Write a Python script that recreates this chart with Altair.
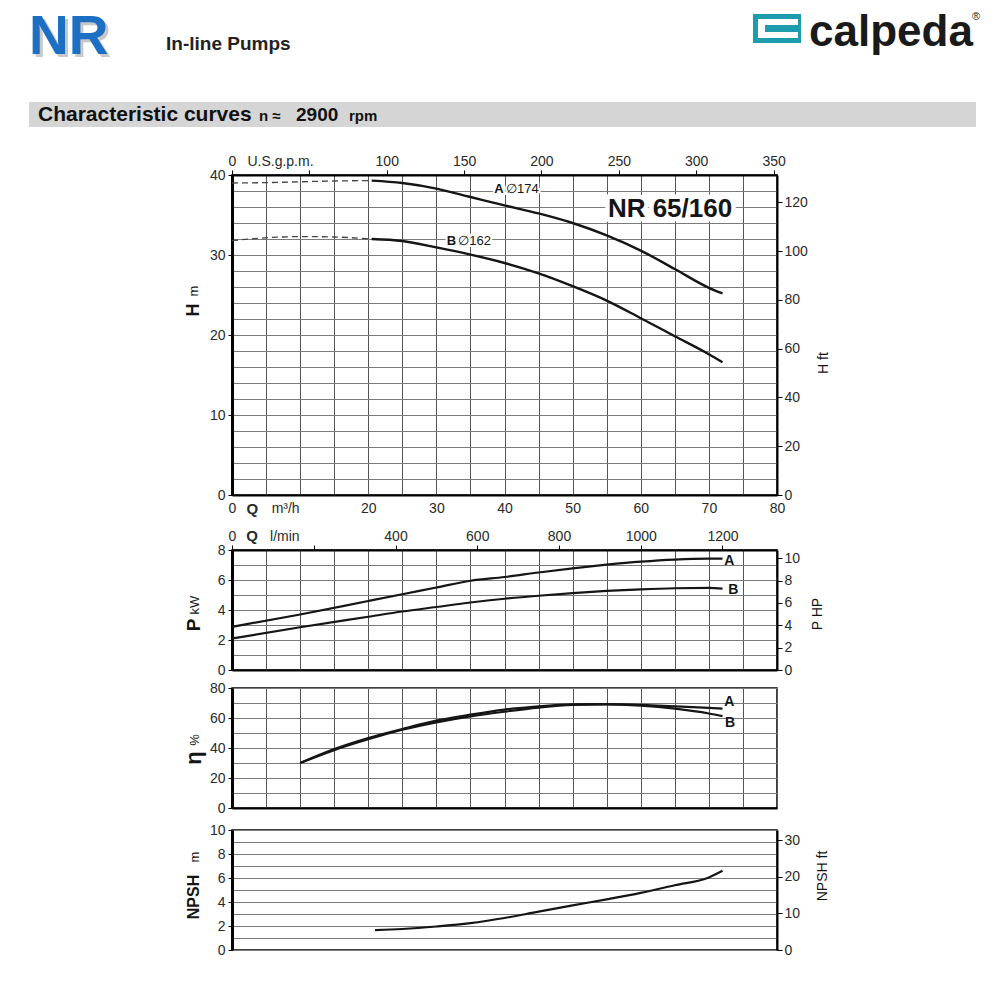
import altair as alt
import pandas as pd

FONT = "Liberation Sans"
INK = "#151515"
LABEL = "#2a2a2a"
GRID_V = "#555555"
GRID_H = "#7a7a7a"
BLUE = "#1c6fc2"
TEAL = "#1c9cad"
BAND = "#d5d5d5"
W = 545

# ---------------- curve data ----------------
curve_names = ["A", "B"]
impeller_labels = ["\u2205174", "\u2205162"]
model_name = ["NR 65/160"]

head_q = [20.5, 25, 30, 35, 40, 45, 50, 55, 60, 65, 70, 72]
head_a = [39.3, 39.0, 38.3, 37.25, 36.2, 35.2, 34.0, 32.45, 30.55, 28.25, 25.9, 25.2]
head_b = [32.0, 31.75, 30.95, 30.05, 29.0, 27.7, 26.1, 24.3, 22.1, 19.85, 17.6, 16.6]
head_ext_q = [0, 5, 10, 15, 20.5]
head_ext_a = [39.0, 39.05, 39.15, 39.25, 39.3]
head_ext_b = [31.8, 32.15, 32.3, 32.25, 32.0]

power_q = [0, 10, 20, 25, 30, 35, 40, 45, 50, 55, 60, 65, 70, 72]
power_a = [2.88, 3.7, 4.6, 5.05, 5.5, 5.95, 6.2, 6.5, 6.78, 7.02, 7.22, 7.36, 7.42, 7.42]
power_b = [2.1, 2.85, 3.55, 3.9, 4.2, 4.5, 4.75, 4.95, 5.12, 5.27, 5.38, 5.45, 5.47, 5.42]

eff_q = [10, 15, 20, 25, 30, 35, 40, 45, 50, 55, 60, 65, 70, 72]
eff_a = [30.0, 39.3, 46.7, 52.7, 58.2, 62.2, 65.6, 67.8, 69.1, 69.3, 68.7, 67.8, 66.8, 66.3]
eff_b = [30.0, 38.6, 45.8, 52.2, 57.1, 61.1, 64.2, 66.9, 68.7, 69.1, 68.2, 66.2, 63.0, 61.2]

npsh_q = [21, 25, 30, 35, 40, 45, 50, 55, 60, 65, 70, 72]
npsh_v = [1.65, 1.75, 1.96, 2.24, 2.67, 3.2, 3.72, 4.22, 4.76, 5.4, 6.05, 6.6]

# annotation anchors (data coordinates)
head_label_q = [39.2, 32.2]
head_label_v = [38.3, 31.75]
model_label_q = [64.3]
model_label_v = [35.7]
power_label_q = [73.0, 73.6]
power_label_v = [7.3, 5.35]
eff_label_q = [73.0, 73.1]
eff_label_v = [70.7, 56.7]

# axis texts
left_titles = ["H", "P", "\u03b7", "NPSH"]
left_units = ["m", "kW", "%", "m"]
right_titles = ["H ft", "P HP", "NPSH ft"]
header_brand = ["NR"]
header_sub = ["In-line Pumps"]
header_logo = ["calpeda"]
header_reg = ["\u00ae"]
band_title = ["Characteristic curves"]
band_speed = ["n \u2248", "2900", "rpm"]

# axis tick values
q_grid = list(range(0, 81, 5))
Q_LETTER = 2.9
Q_UNIT = 7.8
gpm_ticks = [0, 31, 50, 100, 150, 200, 250, 300, 350]
lpm_ticks = [0, 48, 128, 200, 400, 600, 800, 1000, 1200]
h_ft_ticks = [0, 20, 40, 60, 80, 100, 120]
hp_ticks = [0, 2, 4, 6, 8, 10]
npsh_ft_ticks = [0, 10, 20, 30]

GPM = 4.40287
LPM = 1000.0 / 60.0
FT = 1 / 0.3048
HP = 1 / 0.7457


def curve_df(q, series):
    rows = []
    for name, vals in series.items():
        for qq, vv in zip(q, vals):
            rows.append({"q": qq, "v": vv, "curve": name})
    return pd.DataFrame(rows)


def q_axis(with_labels):
    if with_labels:
        vals = sorted(set(q_grid + [Q_LETTER, Q_UNIT]))
        return alt.Axis(
            orient="bottom", values=vals,
            labelExpr=(f"datum.value == {Q_LETTER} ? 'Q' : datum.value == {Q_UNIT} ? 'm\u00b3/h' : "
                       "(datum.value == 0 || (datum.value >= 20 && datum.value % 10 == 0)) ? datum.label : ''"),
            labelFontWeight={"condition": {"test": f"datum.value == {Q_LETTER}", "value": "bold"}, "value": "normal"},
            labelFontSize={"condition": {"test": f"datum.value == {Q_LETTER}", "value": 15}, "value": 14},
            labelColor=LABEL, labelPadding=6, labelFlush=False, labelOverlap=False, ticks=False,
            grid=True, gridColor=GRID_V, gridWidth=1,
            gridOpacity={"condition": {"test": f"datum.value == {Q_LETTER} || datum.value == {Q_UNIT}", "value": 0}, "value": 1},
            domain=True, domainColor="black", domainWidth=2, title=None)
    return alt.Axis(orient="bottom", values=q_grid, labels=False, ticks=False, grid=True,
                    gridColor=GRID_V, gridWidth=1, domain=True, domainColor="black",
                    domainWidth=2, title=None)


def v_axis(vals, step):
    return alt.Axis(
        orient="left", values=vals,
        labelExpr=f"datum.value % {step} == 0 ? datum.label : ''",
        tickOpacity={"condition": {"test": f"datum.value % {step} != 0", "value": 0}, "value": 1},
        tickSize=4, tickColor="black", tickWidth=1, labelPadding=3, labelFontSize=14,
        labelColor=LABEL, labelOverlap=False, grid=True, gridColor=GRID_H, gridWidth=1.2,
        domain=True, domainColor="black", domainWidth=3, title=None)


def enc_xy(xaxis, ymax, yaxis):
    return dict(
        x=alt.X("q:Q", scale=alt.Scale(domain=[0, 80], nice=False, zero=False), axis=xaxis),
        y=alt.Y("v:Q", scale=alt.Scale(domain=[0, ymax], nice=False, zero=False), axis=yaxis),
    )


def right_layer(max_val, vals):
    df = pd.DataFrame({"q": [0.0], "r": [0.0]})
    return alt.Chart(df).mark_point(opacity=0).encode(
        x=alt.X("q:Q", scale=alt.Scale(domain=[0, 80], nice=False, zero=False), axis=None),
        y=alt.Y("r:Q", scale=alt.Scale(domain=[0, max_val], nice=False, zero=False),
                axis=alt.Axis(orient="right", values=vals, format="d", tickSize=5, tickColor="black",
                              labelPadding=2, labelFontSize=14, labelColor=LABEL,
                              labelOverlap=False, grid=False, domain=True,
                              domainColor="black", domainWidth=2, title=None)))


def top_layer(max_val, vals, expr, hidden_test, bold_test):
    df = pd.DataFrame({"u": [0.0], "r": [0.0]})
    return alt.Chart(df).mark_point(opacity=0).encode(
        x=alt.X("u:Q", scale=alt.Scale(domain=[0, max_val], nice=False, zero=False),
                axis=alt.Axis(orient="top", values=vals, format="d", labelExpr=expr,
                              tickOpacity={"condition": {"test": hidden_test, "value": 0}, "value": 1},
                              labelFontWeight={"condition": {"test": bold_test, "value": "bold"}, "value": "normal"},
                              labelFontSize={"condition": {"test": bold_test, "value": 15}, "value": 14},
                              tickSize=5, tickColor="black", labelPadding=2, labelColor=LABEL,
                              labelFlush=False, labelOverlap=False, grid=False, domain=True,
                              domainColor="black", domainWidth=2, title=None)),
        y=alt.Y("r:Q", scale=alt.Scale(domain=[0, 1]), axis=None))


def txt(texts, x, y, size, weight="normal", angle=0, align="center", baseline="middle", color=INK):
    df = pd.DataFrame({"t": texts})
    return alt.Chart(df).mark_text(font=FONT, fontSize=size, fontWeight=weight, angle=angle,
                                   align=align, baseline=baseline, color=color).encode(
        text="t:N", x=alt.value(x), y=alt.value(y))


def box(x1, x2, y1, y2, color, opacity=1.0):
    df = pd.DataFrame({"b": [0]})
    return alt.Chart(df).mark_rect(color=color, opacity=opacity).encode(
        x=alt.value(x1), x2=alt.value(x2), y=alt.value(y1), y2=alt.value(y2))


def anno(texts, qs, vs, E, size, weight="bold", align="center", dx=0, halo=0):
    df = pd.DataFrame({"t": texts, "q": qs, "v": vs})
    layers = []
    if halo:
        layers.append(alt.Chart(df).mark_text(font=FONT, fontSize=size, fontWeight=weight, align=align,
                                              dx=dx, stroke="white", strokeWidth=halo, color="white")
                      .encode(text="t:N", **E))
    layers.append(alt.Chart(df).mark_text(font=FONT, fontSize=size, fontWeight=weight, align=align,
                                          dx=dx, color=INK).encode(text="t:N", **E))
    return layers


def lines(df, E, width, dash=None, color=INK):
    kw = dict(color=color, strokeWidth=width, interpolate="monotone")
    if dash:
        kw["strokeDash"] = dash
    return alt.Chart(df).mark_line(**kw).encode(detail="curve:N", **E)


# ---------------- H panel (with page header) ----------------
EH = enc_xy(q_axis(True), 40, v_axis(list(range(0, 41, 2)), 10))
head_df = curve_df(head_q, {"A": head_a, "B": head_b})
head_ext_df = curve_df(head_ext_q, {"A": head_ext_a, "B": head_ext_b})

header = [
    box(-203, 744, -166, -130, "white", 0.0),
    txt(header_brand, -200, -118, 55, "bold", align="left", baseline="alphabetic", color="#c8c8c8"),
    txt(header_brand, -203, -121, 55, "bold", align="left", baseline="alphabetic", color=BLUE),
    txt(header_sub, -66, -125, 19, "bold", align="left", baseline="alphabetic", color="#222222"),
    box(521, 569, -161, -132, TEAL),
    box(526, 566, -156, -137, "white"),
    box(533, 569, -150, -143, TEAL),
    txt(header_logo, 577, -129, 44, "bold", align="left", baseline="alphabetic", color="#1a1a1a"),
    txt(header_reg, 744, -158, 11, "normal", align="center", baseline="middle", color="#1a1a1a"),
    box(-203, 744, -73, -48, BAND),
    txt(band_title, -194, -54, 21, "bold", align="left", baseline="alphabetic", color="#111111"),
    txt(band_speed[:1], 27, -54, 15, "bold", align="left", baseline="alphabetic", color="#111111"),
    txt(band_speed[1:2], 64, -54, 19, "bold", align="left", baseline="alphabetic", color="#111111"),
    txt(band_speed[2:], 117, -54, 15, "bold", align="left", baseline="alphabetic", color="#111111"),
]

h_layers = header + [
    lines(head_ext_df, EH, 1.3, dash=[6, 4], color="#444444"),
    lines(head_df, EH, 2.4),
]
h_layers += anno(model_name, model_label_q, model_label_v, EH, 26, "bold", halo=9)
h_layers += anno(curve_names, head_label_q, head_label_v, EH, 13, "bold", halo=4)
h_layers += anno(impeller_labels, head_label_q, head_label_v, EH, 13, "normal", align="left", dx=7, halo=4)
h_layers += [
    txt(left_titles[0:1], -38, 135, 18, "bold", angle=270),
    txt(left_units[0:1], -38, 116, 13, "normal", angle=270),
    txt(right_titles[0:1], 592, 188, 14, "normal", angle=270),
]
h_main = alt.layer(*h_layers)
gpm_top = top_layer(80 * GPM, gpm_ticks,
                    "datum.value == 31 ? 'U.S.g.p.m.' : datum.value == 50 ? '' : datum.label",
                    "datum.value == 31", "false")
h_panel = alt.layer(h_main, gpm_top, right_layer(40 * FT, h_ft_ticks)).resolve_scale(
    x="independent", y="independent").properties(width=W, height=320)

# ---------------- P panel ----------------
EP = enc_xy(q_axis(False), 8, v_axis(list(range(0, 9, 1)), 2))
power_df = curve_df(power_q, {"A": power_a, "B": power_b})
p_layers = [lines(power_df, EP, 2.2)]
p_layers += anno(curve_names, power_label_q, power_label_v, EP, 14, "bold")
p_layers += [
    txt(left_titles[1:2], -38, 75, 19, "bold", angle=270),
    txt(left_units[1:2], -37, 55, 13, "normal", angle=270),
    txt(right_titles[1:2], 586, 64, 14, "normal", angle=270),
]
p_main = alt.layer(*p_layers)
lpm_top = top_layer(80 * LPM, lpm_ticks,
                    "datum.value == 48 ? 'Q' : datum.value == 128 ? 'l/min' : datum.value == 200 ? '' : datum.label",
                    "datum.value == 48 || datum.value == 128", "datum.value == 48")
p_panel = alt.layer(p_main, lpm_top, right_layer(8 * HP, hp_ticks)).resolve_scale(
    x="independent", y="independent").properties(width=W, height=120)

# ---------------- efficiency panel ----------------
EE = enc_xy(q_axis(False), 80, v_axis(list(range(0, 81, 10)), 20))
eff_df = curve_df(eff_q, {"A": eff_a, "B": eff_b})
e_layers = [lines(eff_df, EE, 2.2)]
e_layers += anno(curve_names, eff_label_q, eff_label_v, EE, 14, "bold")
e_layers += [
    txt(left_titles[2:3], -38, 70, 22, "bold", angle=270),
    txt(left_units[2:3], -37, 52, 13, "normal", angle=270),
]
e_panel = alt.layer(*e_layers).properties(width=W, height=120)

# ---------------- NPSH panel ----------------
EN = enc_xy(q_axis(True), 10, v_axis(list(range(0, 11, 1)), 2))
npsh_df = curve_df(npsh_q, {"NPSH": npsh_v})
n_layers = [lines(npsh_df, EN, 2.2)]
n_layers += [
    txt(left_titles[3:4], -38, 67, 16, "bold", angle=270),
    txt(left_units[3:4], -37, 27, 13, "normal", angle=270),
    txt(right_titles[2:3], 591, 46, 14, "normal", angle=270),
]
n_main = alt.layer(*n_layers)
n_panel = alt.layer(n_main, right_layer(10 * FT, npsh_ft_ticks)).resolve_scale(
    y="independent").properties(width=W, height=120)


def spacer(h):
    df = pd.DataFrame({"s": [0]})
    return alt.Chart(df).mark_point(opacity=0).encode(x=alt.value(0), y=alt.value(0)).properties(
        width=W, height=h, view=alt.ViewBackground(strokeOpacity=0))


chart = alt.vconcat(
    h_panel, spacer(47), p_panel, spacer(10), e_panel, spacer(14), n_panel,
    spacing=4, bounds="flush",
).properties(
    padding={"left": 20, "top": 0, "right": 5, "bottom": 5},
    background="white",
).configure_view(
    stroke="black", strokeWidth=1.5
).configure_axis(
    labelFont=FONT, titleFont=FONT
)

chart.save("out.html", embed_options={"renderer": "svg", "actions": False})
